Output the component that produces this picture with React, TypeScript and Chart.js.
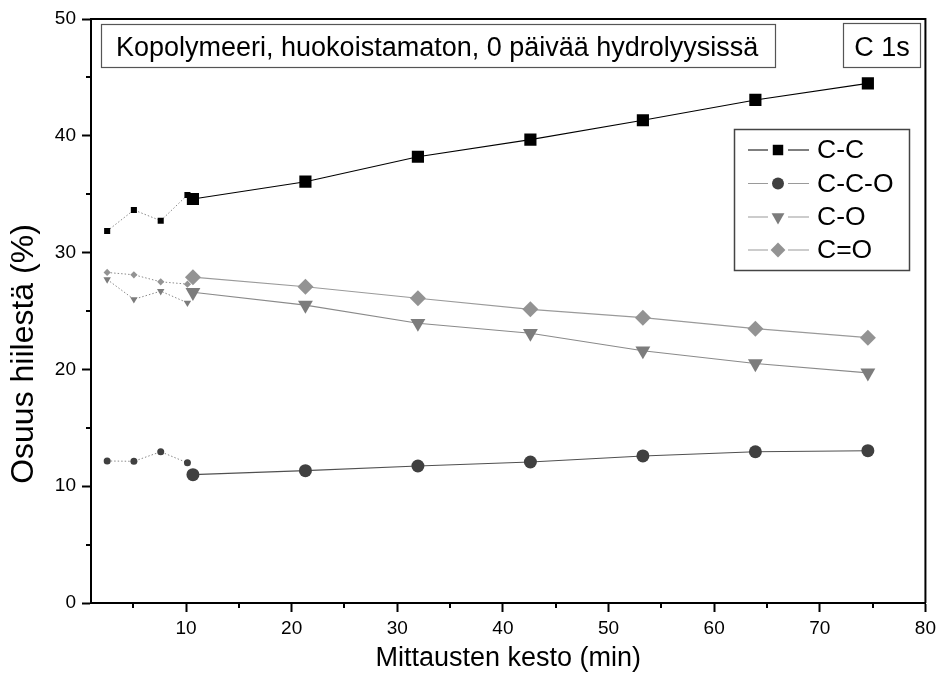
import React, { useEffect, useRef } from 'react';
import { Chart, registerables } from 'chart.js';
import { drawPoint } from 'chart.js/helpers';

Chart.register(...registerables);

// Measurement times (min): closely spaced early scans and the long series
const earlyTimes = [2.53, 5.06, 7.6, 10.13];
const mainTimes = [10.65, 21.3, 31.95, 42.6, 53.25, 63.9, 74.55];

// Share of carbon (%) for each C 1s component
const ccEarly = [31.85, 33.65, 32.73, 34.93];
const ccMain = [34.59, 36.07, 38.21, 39.67, 41.33, 43.07, 44.49];
const ccoEarly = [12.16, 12.13, 12.95, 12.0];
const ccoMain = [10.99, 11.33, 11.73, 12.07, 12.59, 12.95, 13.04];
const coEarly = [27.7, 26.0, 26.7, 25.7];
const coMain = [26.6, 25.5, 23.95, 23.1, 21.6, 20.5, 19.7];
const c2oEarly = [28.3, 28.1, 27.5, 27.3];
const c2oMain = [27.9, 27.08, 26.09, 25.14, 24.43, 23.49, 22.72];

const seriesNames = ['C-C', 'C-C-O', 'C-O', 'C=O'];
const xTickValues = [10, 20, 30, 40, 50, 60, 70, 80];
const xMinorValues = [5, 15, 25, 35, 45, 55, 65, 75];
const yMinorValues = [5, 15, 25, 35, 45];

const panelTitle = 'Kopolymeeri, huokoistamaton, 0 päivää hydrolyysissä';
const regionLabel = 'C 1s';
const xTitle = 'Mittausten kesto (min)';
const yTitle = 'Osuus hiilestä (%)';

const FONT = "'Liberation Sans', Arial, Helvetica, sans-serif";

type Style = {
  marker: string;
  rotation: number;
  fill: string;
  line: string;
  legendLine: string;
  bigR: number;
  smallR: number;
};

const styles: Style[] = [
  { marker: 'rect', rotation: 0, fill: '#000000', line: '#000000', legendLine: '#000000', bigR: 8.6, smallR: 4.3 },
  { marker: 'circle', rotation: 0, fill: '#404040', line: '#505050', legendLine: '#9a9a9a', bigR: 6.5, smallR: 3.5 },
  { marker: 'triangle', rotation: 180, fill: '#7c7c7c', line: '#8a8a8a', legendLine: '#9a9a9a', bigR: 8.6, smallR: 4.3 },
  { marker: 'rectRot', rotation: 0, fill: '#939393', line: '#9a9a9a', legendLine: '#9a9a9a', bigR: 8, smallR: 3.6 },
];

const earlyData = [ccEarly, ccoEarly, coEarly, c2oEarly];
const mainData = [ccMain, ccoMain, coMain, c2oMain];

const toPoints = (xs: number[], ys: number[]) => xs.map((x, i) => ({ x, y: ys[i] }));

const decorations = {
  id: 'decorations',
  afterDraw(chart: any) {
    const { ctx, chartArea: a, scales } = chart;
    const xs = scales.x;
    const ys = scales.y;
    ctx.save();

    // top and right frame lines
    ctx.strokeStyle = '#000';
    ctx.lineWidth = 2;
    ctx.beginPath();
    ctx.moveTo(a.left, a.top);
    ctx.lineTo(a.right, a.top);
    ctx.lineTo(a.right, a.bottom);
    ctx.stroke();

    // minor ticks
    ctx.lineWidth = 2;
    ctx.beginPath();
    xMinorValues.forEach((v) => {
      const px = Math.round(xs.getPixelForValue(v));
      ctx.moveTo(px, a.bottom);
      ctx.lineTo(px, a.bottom + 5);
    });
    yMinorValues.forEach((v) => {
      const py = Math.round(ys.getPixelForValue(v));
      ctx.moveTo(a.left - 5, py);
      ctx.lineTo(a.left, py);
    });
    ctx.stroke();

    // y axis title
    ctx.save();
    ctx.translate(33, 354);
    ctx.rotate(-Math.PI / 2);
    ctx.fillStyle = '#000';
    ctx.font = `32px ${FONT}`;
    ctx.textAlign = 'center';
    ctx.textBaseline = 'alphabetic';
    ctx.fillText(yTitle, 0, 0);
    ctx.restore();

    // header boxes
    ctx.fillStyle = '#fff';
    ctx.strokeStyle = '#555';
    ctx.lineWidth = 1.2;
    ctx.fillRect(101.5, 24.5, 674, 43);
    ctx.strokeRect(101.5, 24.5, 674, 43);
    ctx.fillRect(843.5, 23.5, 77, 44);
    ctx.strokeRect(843.5, 23.5, 77, 44);

    ctx.fillStyle = '#000';
    ctx.font = `27px ${FONT}`;
    ctx.textBaseline = 'alphabetic';
    ctx.textAlign = 'left';
    ctx.fillText(panelTitle, 116, 56);
    ctx.textAlign = 'center';
    ctx.fillText(regionLabel, 882, 56);

    // legend
    const lx = 734, ly = 129, lw = 175, lh = 141;
    ctx.fillStyle = '#fff';
    ctx.fillRect(lx, ly, lw, lh);
    ctx.strokeStyle = '#444';
    ctx.lineWidth = 1.5;
    ctx.strokeRect(lx + 0.5, ly + 0.5, lw, lh);
    const rows = [150, 183.5, 217, 250];
    seriesNames.forEach((name, i) => {
      const s = styles[i];
      const y = rows[i];
      ctx.strokeStyle = s.legendLine;
      ctx.lineWidth = 1.2;
      ctx.beginPath();
      ctx.moveTo(748, y);
      ctx.lineTo(768, y);
      ctx.moveTo(788, y);
      ctx.lineTo(809, y);
      ctx.stroke();
      ctx.fillStyle = s.fill;
      ctx.strokeStyle = s.fill;
      drawPoint(ctx, { pointStyle: s.marker, radius: s.marker === 'circle' ? 6 : 7.4, rotation: s.rotation, borderWidth: 0 } as any, 778, y);
      ctx.fillStyle = '#000';
      ctx.font = `26.5px ${FONT}`;
      ctx.textAlign = 'left';
      ctx.textBaseline = 'middle';
      ctx.fillText(name, 817, y + 1);
    });

    ctx.restore();
  },
};

export default function App() {
  const canvasRef = useRef<HTMLCanvasElement | null>(null);

  useEffect(() => {
    const canvas = canvasRef.current;
    if (!canvas) return;

    const datasets: any[] = [];
    styles.forEach((s, i) => {
      datasets.push({
        label: seriesNames[i] + ' (alku)',
        data: toPoints(earlyTimes, earlyData[i]),
        showLine: true,
        borderColor: '#8a8a8a',
        borderWidth: 1,
        borderDash: [1.5, 2],
        pointStyle: s.marker,
        rotation: s.rotation,
        pointRadius: s.smallR,
        pointBackgroundColor: s.fill,
        pointBorderColor: s.fill,
        pointBorderWidth: 0,
      });
    });
    styles.forEach((s, i) => {
      datasets.push({
        label: seriesNames[i],
        data: toPoints(mainTimes, mainData[i]),
        showLine: true,
        borderColor: s.line,
        borderWidth: 1.1,
        pointStyle: s.marker,
        rotation: s.rotation,
        pointRadius: s.bigR,
        pointBackgroundColor: s.fill,
        pointBorderColor: s.fill,
        pointBorderWidth: 0,
      });
    });

    const chart = new Chart(canvas, {
      type: 'scatter',
      data: { datasets },
      options: {
        animation: false,
        responsive: false,
        devicePixelRatio: 1,
        layout: { padding: { top: 19, right: 14, left: 0, bottom: 0 } },
        plugins: {
          legend: { display: false },
          tooltip: { enabled: false },
        },
        scales: {
          x: {
            type: 'linear',
            min: 1,
            max: 80,
            afterBuildTicks: (s: any) => {
              s.ticks = xTickValues.map((v) => ({ value: v }));
            },
            afterFit: (s: any) => {
              s.height = 72;
            },
            ticks: { font: { family: FONT, size: 19 }, color: '#000', padding: 5, maxRotation: 0, autoSkip: false },
            grid: { drawOnChartArea: false, drawTicks: true, tickLength: 9, tickWidth: 2, tickColor: '#000' },
            border: { display: true, color: '#000', width: 2 },
            title: {
              display: true,
              text: xTitle,
              color: '#000',
              font: { family: FONT, size: 27 },
              padding: { top: 0, bottom: 0 },
            },
          },
          y: {
            type: 'linear',
            min: 0,
            max: 50,
            afterFit: (s: any) => {
              s.width = 91;
            },
            ticks: { stepSize: 10, font: { family: FONT, size: 19 }, color: '#000', padding: 6 },
            grid: { drawOnChartArea: false, drawTicks: true, tickLength: 9, tickWidth: 2, tickColor: '#000' },
            border: { display: true, color: '#000', width: 2 },
          },
        },
      },
      plugins: [decorations],
    });

    return () => chart.destroy();
  }, []);

  return (
    <div style={{ position: 'fixed', left: 0, top: 0, width: 941, height: 675, background: '#fff' }}>
      <canvas ref={canvasRef} width={941} height={675} />
    </div>
  );
}
